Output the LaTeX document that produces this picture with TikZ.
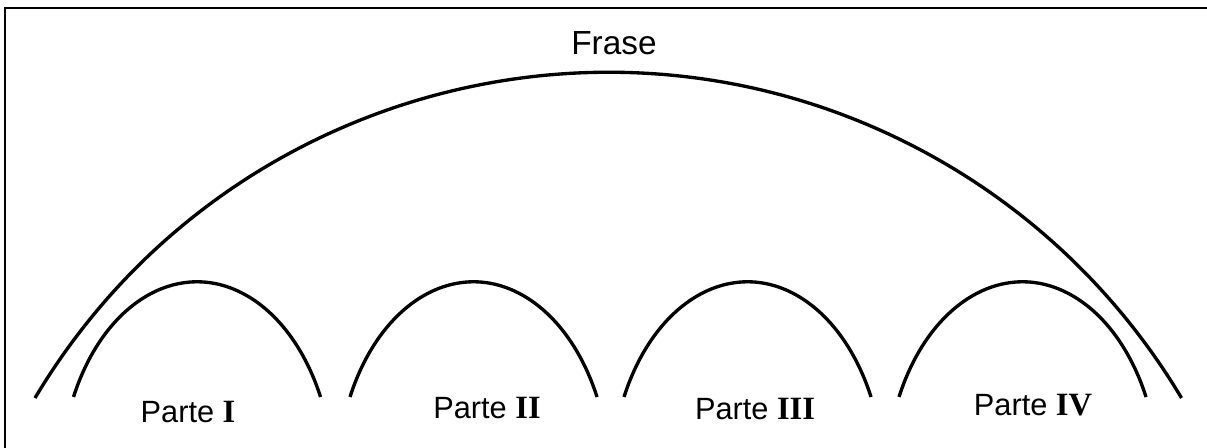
\documentclass[tikz,border=0pt]{standalone}
\usepackage{fontspec}
\setmainfont{Liberation Sans}
\newfontfamily\numfont{Liberation Serif}
\usepackage{tikz}

\begin{document}
\begin{tikzpicture}[x=0.02cm, y=0.02cm, line width=1.9pt, font=\fontsize{17.5}{20}\selectfont]
\useasboundingbox (0,0) rectangle (1207,448);
% frame (top and left only)
\coordinate (TL) at (5,440);
\draw[line width=0.85pt] (1207,440) -- (TL) -- (5,0);
% whole sentence: big circular arc
\coordinate (fraseL) at (35,50);
\draw (fraseL) arc[start angle=149.2, end angle=30.8, radius=667.4];
\node[font=\fontsize{19}{22}\selectfont] (frase) at (614,405) {Frase};
% the four parts
\foreach \cx/\lx/\ly/\num [count=\i] in {197/188/36/I, 473.5/487/40/II, 747.5/755/39/III, 1022.5/1033/43/IV}{
  \coordinate (parteL\i) at (\cx-123.5,51);
  \draw (parteL\i) arc[start angle=154.9, end angle=25.1, x radius=136.4, y radius=200];
  \node (parte\i) at (\lx,\ly) {Parte {\numfont\bfseries\fontsize{18.5}{20}\selectfont\num}};
}
\end{tikzpicture}
\end{document}
